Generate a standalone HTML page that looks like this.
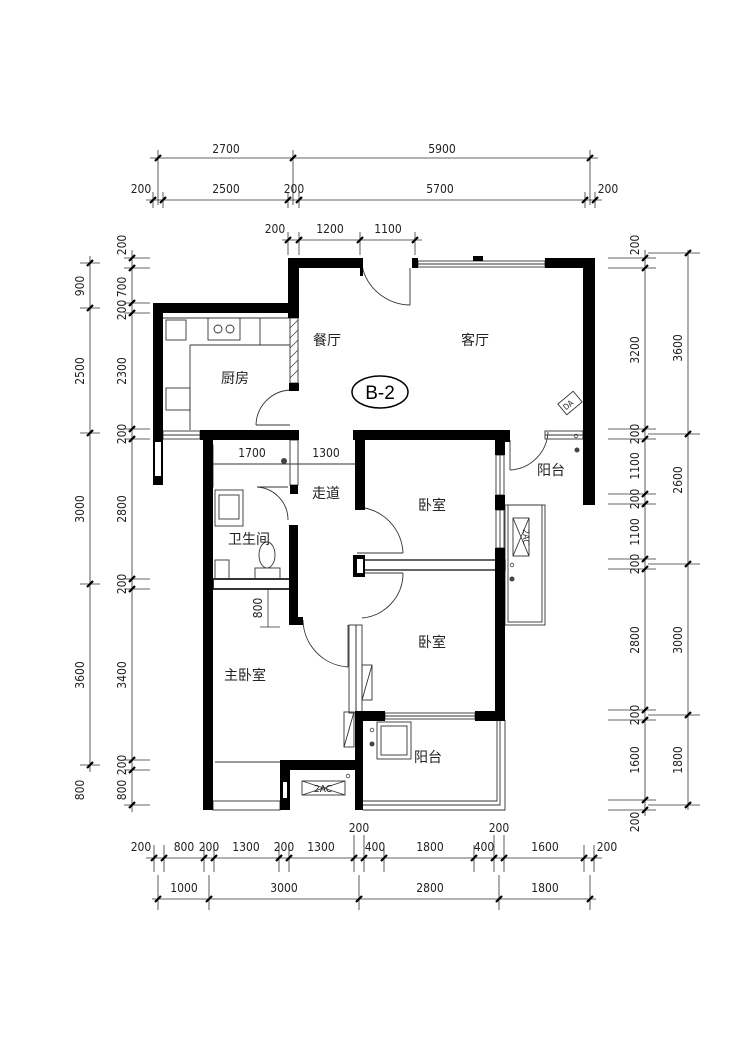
<!DOCTYPE html>
<html><head><meta charset="utf-8"><style>
html,body{margin:0;padding:0;background:#fff}
svg{display:block}
.d{font-family:"Liberation Sans Narrow","DejaVu Sans Condensed","Liberation Sans",sans-serif;font-size:12px;fill:#222}
.c{font-family:"Liberation Sans","Noto Sans CJK SC",sans-serif;font-size:14px;fill:#222}
</style></head><body>
<svg width="750" height="1061" viewBox="0 0 750 1061" xmlns="http://www.w3.org/2000/svg">
<defs>
<g id="t"><line x1="-3" y1="3" x2="3" y2="-3" stroke="#000" stroke-width="2.2"/></g>
</defs>
<g stroke="#333" stroke-width="0.8" fill="none">
<line x1="150" y1="158" x2="598" y2="158"/>
<line x1="158" y1="150" x2="158" y2="205"/><line x1="293" y1="150" x2="293" y2="205"/><line x1="590" y1="150" x2="590" y2="205"/>
<line x1="146" y1="200" x2="602" y2="200"/>
<line x1="153" y1="192" x2="153" y2="208"/><line x1="163" y1="192" x2="163" y2="208"/><line x1="288" y1="192" x2="288" y2="208"/><line x1="299" y1="192" x2="299" y2="208"/><line x1="585" y1="192" x2="585" y2="208"/><line x1="595" y1="192" x2="595" y2="208"/>
<line x1="282" y1="240" x2="422" y2="240"/>
<line x1="288" y1="232" x2="288" y2="255"/><line x1="299" y1="232" x2="299" y2="255"/><line x1="360" y1="232" x2="360" y2="255"/><line x1="415" y1="232" x2="415" y2="255"/>
<line x1="90" y1="256" x2="90" y2="772"/>
<line x1="80" y1="263" x2="100" y2="263"/><line x1="80" y1="308" x2="100" y2="308"/><line x1="80" y1="433" x2="100" y2="433"/><line x1="80" y1="584" x2="100" y2="584"/><line x1="80" y1="765" x2="100" y2="765"/>
<line x1="132" y1="250" x2="132" y2="812"/>
<line x1="124" y1="258" x2="150" y2="258"/><line x1="124" y1="268" x2="150" y2="268"/><line x1="124" y1="303" x2="150" y2="303"/><line x1="124" y1="313" x2="150" y2="313"/><line x1="124" y1="429" x2="150" y2="429"/><line x1="124" y1="439" x2="150" y2="439"/><line x1="124" y1="579" x2="150" y2="579"/><line x1="124" y1="589" x2="150" y2="589"/><line x1="124" y1="760" x2="150" y2="760"/><line x1="124" y1="770" x2="150" y2="770"/><line x1="124" y1="805" x2="150" y2="805"/>
<line x1="645" y1="250" x2="645" y2="816"/>
<line x1="608" y1="258" x2="656" y2="258"/><line x1="608" y1="268" x2="656" y2="268"/><line x1="608" y1="429" x2="656" y2="429"/><line x1="608" y1="439" x2="656" y2="439"/><line x1="608" y1="494" x2="656" y2="494"/><line x1="608" y1="504" x2="656" y2="504"/><line x1="608" y1="559" x2="656" y2="559"/><line x1="608" y1="569" x2="656" y2="569"/><line x1="608" y1="710" x2="656" y2="710"/><line x1="608" y1="720" x2="656" y2="720"/><line x1="608" y1="800" x2="656" y2="800"/><line x1="608" y1="810" x2="656" y2="810"/>
<line x1="688" y1="250" x2="688" y2="810"/>
<line x1="648" y1="253" x2="700" y2="253"/><line x1="648" y1="434" x2="700" y2="434"/><line x1="648" y1="564" x2="700" y2="564"/><line x1="648" y1="715" x2="700" y2="715"/><line x1="648" y1="805" x2="700" y2="805"/>
<line x1="146" y1="858" x2="602" y2="858"/>
<line x1="154" y1="845" x2="154" y2="872"/><line x1="164" y1="845" x2="164" y2="872"/><line x1="204" y1="845" x2="204" y2="872"/><line x1="214" y1="845" x2="214" y2="872"/><line x1="279" y1="845" x2="279" y2="872"/><line x1="289" y1="845" x2="289" y2="872"/><line x1="354" y1="835" x2="354" y2="872"/><line x1="364" y1="835" x2="364" y2="872"/><line x1="384" y1="845" x2="384" y2="872"/><line x1="474" y1="845" x2="474" y2="872"/><line x1="494" y1="835" x2="494" y2="872"/><line x1="504" y1="835" x2="504" y2="872"/><line x1="584" y1="845" x2="584" y2="872"/><line x1="594" y1="845" x2="594" y2="872"/>
<line x1="152" y1="899" x2="596" y2="899"/>
<line x1="158" y1="875" x2="158" y2="910"/><line x1="209" y1="875" x2="209" y2="910"/><line x1="359" y1="875" x2="359" y2="910"/><line x1="499" y1="875" x2="499" y2="910"/><line x1="590" y1="875" x2="590" y2="910"/>
</g>
<g>
<use href="#t" x="158" y="158"/><use href="#t" x="293" y="158"/><use href="#t" x="590" y="158"/>
<use href="#t" x="153" y="200"/><use href="#t" x="163" y="200"/><use href="#t" x="288" y="200"/><use href="#t" x="299" y="200"/><use href="#t" x="585" y="200"/><use href="#t" x="595" y="200"/>
<use href="#t" x="288" y="240"/><use href="#t" x="299" y="240"/><use href="#t" x="360" y="240"/><use href="#t" x="415" y="240"/>
<use href="#t" x="90" y="263"/><use href="#t" x="90" y="308"/><use href="#t" x="90" y="433"/><use href="#t" x="90" y="584"/><use href="#t" x="90" y="765"/>
<use href="#t" x="132" y="258"/><use href="#t" x="132" y="268"/><use href="#t" x="132" y="303"/><use href="#t" x="132" y="313"/><use href="#t" x="132" y="429"/><use href="#t" x="132" y="439"/><use href="#t" x="132" y="579"/><use href="#t" x="132" y="589"/><use href="#t" x="132" y="760"/><use href="#t" x="132" y="770"/><use href="#t" x="132" y="805"/>
<use href="#t" x="645" y="258"/><use href="#t" x="645" y="268"/><use href="#t" x="645" y="429"/><use href="#t" x="645" y="439"/><use href="#t" x="645" y="494"/><use href="#t" x="645" y="504"/><use href="#t" x="645" y="559"/><use href="#t" x="645" y="569"/><use href="#t" x="645" y="710"/><use href="#t" x="645" y="720"/><use href="#t" x="645" y="800"/><use href="#t" x="645" y="810"/>
<use href="#t" x="688" y="253"/><use href="#t" x="688" y="434"/><use href="#t" x="688" y="564"/><use href="#t" x="688" y="715"/><use href="#t" x="688" y="805"/>
<use href="#t" x="154" y="858"/><use href="#t" x="164" y="858"/><use href="#t" x="204" y="858"/><use href="#t" x="214" y="858"/><use href="#t" x="279" y="858"/><use href="#t" x="289" y="858"/><use href="#t" x="354" y="858"/><use href="#t" x="364" y="858"/><use href="#t" x="384" y="858"/><use href="#t" x="474" y="858"/><use href="#t" x="494" y="858"/><use href="#t" x="504" y="858"/><use href="#t" x="584" y="858"/><use href="#t" x="594" y="858"/>
<use href="#t" x="158" y="899"/><use href="#t" x="209" y="899"/><use href="#t" x="359" y="899"/><use href="#t" x="499" y="899"/><use href="#t" x="590" y="899"/>
</g>
<g class="d" text-anchor="middle">
<text x="226" y="153">2700</text><text x="442" y="153">5900</text>
<text x="141" y="193">200</text><text x="226" y="193">2500</text><text x="294" y="193">200</text><text x="440" y="193">5700</text><text x="608" y="193">200</text>
<text x="275" y="233">200</text><text x="330" y="233">1200</text><text x="388" y="233">1100</text>
<text x="141" y="851">200</text><text x="184" y="851">800</text><text x="209" y="851">200</text><text x="246" y="851">1300</text><text x="284" y="851">200</text><text x="321" y="851">1300</text><text x="359" y="832">200</text><text x="375" y="851">400</text><text x="430" y="851">1800</text><text x="484" y="851">400</text><text x="499" y="832">200</text><text x="545" y="851">1600</text><text x="607" y="851">200</text>
<text x="184" y="892">1000</text><text x="284" y="892">3000</text><text x="430" y="892">2800</text><text x="545" y="892">1800</text>
</g>
<g class="d" text-anchor="middle">
<text transform="translate(84,286) rotate(-90)">900</text>
<text transform="translate(84,371) rotate(-90)">2500</text>
<text transform="translate(84,509) rotate(-90)">3000</text>
<text transform="translate(84,675) rotate(-90)">3600</text>
<text transform="translate(84,790) rotate(-90)">800</text>
<text transform="translate(126,245) rotate(-90)">200</text>
<text transform="translate(126,287) rotate(-90)">700</text>
<text transform="translate(126,310) rotate(-90)">200</text>
<text transform="translate(126,371) rotate(-90)">2300</text>
<text transform="translate(126,434) rotate(-90)">200</text>
<text transform="translate(126,509) rotate(-90)">2800</text>
<text transform="translate(126,584) rotate(-90)">200</text>
<text transform="translate(126,675) rotate(-90)">3400</text>
<text transform="translate(126,765) rotate(-90)">200</text>
<text transform="translate(126,790) rotate(-90)">800</text>
<text transform="translate(639,245) rotate(-90)">200</text>
<text transform="translate(639,350) rotate(-90)">3200</text>
<text transform="translate(639,434) rotate(-90)">200</text>
<text transform="translate(639,466) rotate(-90)">1100</text>
<text transform="translate(639,499) rotate(-90)">200</text>
<text transform="translate(639,532) rotate(-90)">1100</text>
<text transform="translate(639,564) rotate(-90)">200</text>
<text transform="translate(639,640) rotate(-90)">2800</text>
<text transform="translate(639,715) rotate(-90)">200</text>
<text transform="translate(639,760) rotate(-90)">1600</text>
<text transform="translate(639,822) rotate(-90)">200</text>
<text transform="translate(682,348) rotate(-90)">3600</text>
<text transform="translate(682,480) rotate(-90)">2600</text>
<text transform="translate(682,640) rotate(-90)">3000</text>
<text transform="translate(682,760) rotate(-90)">1800</text>
</g>

<g fill="none" stroke="#333" stroke-width="0.9">
<rect x="505" y="505" width="40" height="120"/><rect x="508" y="505" width="34" height="117"/>
<path d="M363 810 H505 V720"/><path d="M363 805 H500 V720"/><path d="M363 801 H497 V720"/>
<path d="M215 762 H280"/>
<rect x="213" y="801" width="67" height="9"/>
<rect x="418" y="261" width="127" height="6"/><line x1="418" y1="264" x2="545" y2="264"/>
<rect x="165" y="304" width="50" height="6" fill="#fff"/>
<rect x="163" y="431" width="37" height="8"/><line x1="163" y1="435" x2="200" y2="435"/>
<rect x="545" y="431" width="38" height="8"/><line x1="545" y1="435" x2="583" y2="435"/>
<rect x="385" y="713" width="90" height="6"/><line x1="385" y1="716" x2="475" y2="716"/>
<rect x="496" y="455" width="8" height="40"/><line x1="500" y1="455" x2="500" y2="495"/>
<rect x="496" y="510" width="8" height="38"/><line x1="500" y1="510" x2="500" y2="548"/>
<rect x="206" y="445" width="7" height="42"/><line x1="209.5" y1="445" x2="209.5" y2="487"/>
<rect x="349" y="625" width="7" height="88"/><rect x="356" y="625" width="6" height="88"/>
<rect x="290" y="318" width="8" height="65"/>
<rect x="290" y="440" width="8" height="45"/>
<rect x="213" y="579" width="77" height="10" stroke-width="2"/>
<rect x="360" y="560" width="145" height="10" stroke-width="1.5"/>
<line x1="213" y1="464" x2="355" y2="464"/>
<path d="M163 318 H290"/><path d="M190 345 H290"/><path d="M190 345 V430"/><path d="M260 318 V345"/>
<rect x="208" y="318" width="32" height="22"/>
<circle cx="218" cy="329" r="4"/><circle cx="230" cy="329" r="4"/>
<rect x="166" y="388" width="24" height="22"/>
<rect x="166" y="320" width="20" height="20"/>
<rect x="215" y="490" width="28" height="36"/><rect x="219" y="495" width="20" height="24"/>
<ellipse cx="267" cy="555" rx="8" ry="13"/><rect x="255" y="568" width="25" height="11"/>
<rect x="215" y="560" width="14" height="19"/>
<rect x="302" y="781" width="43" height="14"/><path d="M302 781 L345 795 M302 795 L345 781"/>
<rect x="513" y="518" width="16" height="38"/><path d="M513 518 L529 556 M529 518 L513 556"/>
<rect x="560" y="396" width="20" height="14" transform="rotate(-40 570 403)"/>
<rect x="377" y="722" width="34" height="37"/><rect x="381" y="726" width="26" height="29"/>
<rect x="344" y="712" width="10" height="35"/><line x1="344" y1="747" x2="354" y2="712"/>
<rect x="362" y="665" width="10" height="35"/><line x1="362" y1="700" x2="372" y2="665"/>
<path d="M363 270 V268 M363 270 A50 50 0 0 0 410 305"/><line x1="410" y1="268" x2="410" y2="305"/>
<path d="M256 425 A36 36 0 0 1 290 390"/><line x1="256" y1="425" x2="290" y2="425"/>
<path d="M257 487 A33 33 0 0 1 288 520"/><line x1="257" y1="487" x2="288" y2="487"/>
<path d="M365 508 A48 48 0 0 1 403 553"/><line x1="357" y1="553" x2="403" y2="553"/>
<path d="M403 573 A45 45 0 0 1 362 618"/><line x1="357" y1="573" x2="403" y2="573"/>
<path d="M303 620 A48 48 0 0 0 348 667"/><line x1="348" y1="625" x2="348" y2="667"/>
<path d="M510 470 A40 40 0 0 0 548 432"/><line x1="510" y1="440" x2="510" y2="470"/>
</g>
<g fill="#444"><circle cx="512" cy="579" r="2.5"/><circle cx="372" cy="744" r="2.5"/><circle cx="577" cy="450" r="2.5"/><circle cx="284" cy="461" r="3"/></g>
<g fill="none" stroke="#444" stroke-width="0.8"><circle cx="512" cy="565" r="1.8"/><circle cx="372" cy="730" r="1.8"/><circle cx="576" cy="436" r="1.8"/><circle cx="348" cy="776" r="1.8"/></g>

<g fill="#000">
<rect x="288" y="258" width="72" height="10"/><rect x="360" y="258" width="3" height="18"/>
<rect x="412" y="258" width="6" height="10"/><rect x="545" y="258" width="50" height="10"/>
<rect x="473" y="256" width="10" height="5"/>
<rect x="288" y="258" width="11" height="60"/><rect x="289" y="383" width="10" height="8"/>
<rect x="153" y="303" width="146" height="10"/>
<rect x="153" y="303" width="10" height="182"/>
<rect x="200" y="430" width="99" height="10"/>
<rect x="203" y="435" width="10" height="375"/>
<rect x="290" y="485" width="8" height="9"/>
<rect x="289" y="525" width="9" height="100"/><rect x="289" y="617" width="14" height="8"/>
<rect x="353" y="430" width="152" height="10"/>
<rect x="355" y="430" width="10" height="80"/>
<rect x="495" y="430" width="10" height="25"/><rect x="495" y="495" width="10" height="15"/><rect x="495" y="548" width="10" height="172"/>
<rect x="583" y="258" width="12" height="247"/>
<rect x="503" y="430" width="7" height="12"/>
<rect x="355" y="711" width="30" height="10"/><rect x="475" y="711" width="30" height="10"/>
<rect x="355" y="712" width="8" height="98"/>
<rect x="280" y="760" width="83" height="10"/><rect x="280" y="760" width="10" height="50"/>
<rect x="353" y="555" width="12" height="22"/>
</g>
<g fill="#fff"><rect x="155" y="442" width="6" height="34"/><rect x="357" y="559" width="6" height="14"/><rect x="283" y="782" width="4" height="16"/></g>
<g stroke="#333" stroke-width="0.7"><path d="M290 328 L298 320 M290 338 L298 330 M290 348 L298 340 M290 358 L298 350 M290 368 L298 360 M290 378 L298 370"/></g>

<ellipse cx="380" cy="392" rx="28" ry="16" fill="none" stroke="#000" stroke-width="1.5"/>
<text x="380" y="399" text-anchor="middle" style="font-family:'Liberation Sans Narrow','Liberation Sans',sans-serif;font-size:19px">B-2</text>
<g class="c" text-anchor="middle">
<text x="327" y="345">餐厅</text><text x="475" y="345">客厅</text><text x="235" y="383">厨房</text>
<text x="326" y="498">走道</text><text x="432" y="510">卧室</text><text x="249" y="544">卫生间</text>
<text x="551" y="475">阳台</text><text x="432" y="647">卧室</text><text x="245" y="680">主卧室</text><text x="428" y="762">阳台</text>
</g>
<g class="d" text-anchor="middle"><text x="252" y="457">1700</text><text x="326" y="457">1300</text>
<text transform="translate(262,608) rotate(-90)">800</text>
<text x="323" y="792" style="font-size:10px">2AC</text>
<text transform="translate(523,537) rotate(90)" style="font-size:9px">2AC</text>
<text transform="translate(570,407) rotate(-40)" style="font-size:8px">DA</text></g>
<g stroke="#333" stroke-width="0.8"><line x1="268" y1="590" x2="268" y2="627"/><line x1="260" y1="627" x2="280" y2="627"/></g>
</svg>
</body></html>
